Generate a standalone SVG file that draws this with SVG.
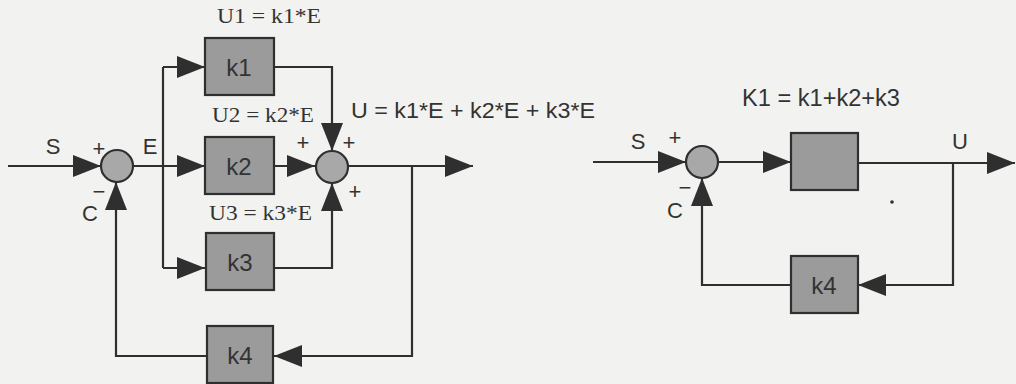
<svg xmlns="http://www.w3.org/2000/svg" width="1016" height="384" viewBox="0 0 1016 384">
<style>
.bg{fill:#f2f2f0}
.blk{fill:#9b9b9b;stroke:#2f2f2f;stroke-width:2.2}
.sum{fill:#a8a8a8;stroke:#2f2f2f;stroke-width:2.2}
.ln{fill:none;stroke:#2f2f2f;stroke-width:2.2}
.sans{font-family:"Liberation Sans","DejaVu Sans",sans-serif;fill:#333333}
.serif{font-family:"Liberation Serif","DejaVu Serif",serif;fill:#333333}
.lbl{font-size:22px;text-anchor:middle}
.k{font-size:24px;text-anchor:middle}
</style>
<defs>
<marker id="ah" markerUnits="userSpaceOnUse" markerWidth="28" markerHeight="22" refX="28" refY="11" orient="auto">
<path d="M0,0 L28,11 L0,22 Z" fill="#2f2f2f"/>
</marker>
</defs>
<rect class="bg" x="0" y="0" width="1016" height="384"/>
<g id="connectors">
<line class="ln" x1="8" y1="166" x2="101" y2="166" marker-end="url(#ah)"/>
<line class="ln" x1="133" y1="166" x2="205" y2="166" marker-end="url(#ah)"/>
<line class="ln" x1="163" y1="67" x2="163" y2="268"/>
<line class="ln" x1="163" y1="67" x2="205" y2="67" marker-end="url(#ah)"/>
<line class="ln" x1="163" y1="268" x2="205" y2="268" marker-end="url(#ah)"/>
<polyline class="ln" points="274,67 332,67 332,151" marker-end="url(#ah)"/>
<polyline class="ln" points="274,268 332,268 332,183" marker-end="url(#ah)"/>
<line class="ln" x1="274" y1="166" x2="315" y2="166" marker-end="url(#ah)"/>
<line class="ln" x1="347" y1="166" x2="473" y2="166" marker-end="url(#ah)"/>
<polyline class="ln" points="412,166 412,356 274,356" marker-end="url(#ah)"/>
<polyline class="ln" points="207,356 116,356 116,182" marker-end="url(#ah)"/>
<line class="ln" x1="593" y1="162" x2="686" y2="162" marker-end="url(#ah)"/>
<line class="ln" x1="718" y1="162" x2="791" y2="162" marker-end="url(#ah)"/>
<line class="ln" x1="858" y1="163" x2="1015" y2="163" marker-end="url(#ah)"/>
<polyline class="ln" points="953,163 953,285 858,285" marker-end="url(#ah)"/>
<polyline class="ln" points="791,285 702,285 702,178" marker-end="url(#ah)"/>
</g>
<g id="sum1"><circle class="sum" cx="117" cy="166" r="16"/></g>
<g id="sum2"><circle class="sum" cx="332" cy="167" r="16"/></g>
<g id="k1"><rect class="blk" x="205" y="38" width="69" height="57"/><text class="sans k" x="239" y="76">k1</text></g>
<g id="k2"><rect class="blk" x="205" y="137" width="69" height="57"/><text class="sans k" x="239" y="175">k2</text></g>
<g id="k3"><rect class="blk" x="206" y="233" width="68" height="57"/><text class="sans k" x="240" y="271">k3</text></g>
<g id="k4"><rect class="blk" x="207" y="326" width="66" height="57"/><text class="sans k" x="240" y="364">k4</text></g>
<g id="sum3"><circle class="sum" cx="702" cy="162" r="16"/></g>
<g id="K1"><rect class="blk" x="791" y="133" width="67" height="57"/></g>
<g id="k4b"><rect class="blk" x="791" y="256" width="67" height="57"/><text class="sans k" x="824" y="294">k4</text></g>
<g id="labels">
<text class="sans lbl" x="53" y="154">S</text>
<text class="sans lbl" x="99" y="156">+</text>
<text class="sans lbl" x="150" y="154">E</text>
<text class="sans lbl" x="99" y="199">−</text>
<text class="sans lbl" x="90" y="221">C</text>
<text class="serif" x="217" y="23" font-size="21" textLength="104" lengthAdjust="spacingAndGlyphs">U1 = k1*E</text>
<text class="serif" x="212" y="122" font-size="21" textLength="102" lengthAdjust="spacingAndGlyphs">U2 = k2*E</text>
<text class="serif" x="209" y="220" font-size="21" textLength="103" lengthAdjust="spacingAndGlyphs">U3 = k3*E</text>
<text class="sans" x="351" y="118" font-size="22" textLength="244" lengthAdjust="spacingAndGlyphs">U = k1*E + k2*E + k3*E</text>
<text class="sans lbl" x="303" y="150">+</text>
<text class="sans lbl" x="349" y="150">+</text>
<text class="sans lbl" x="355" y="199">+</text>
<text class="sans lbl" x="638" y="149">S</text>
<text class="sans lbl" x="675" y="145">+</text>
<text class="sans lbl" x="685" y="195">−</text>
<text class="sans lbl" x="675" y="218">C</text>
<text class="sans" x="742" y="106" font-size="23" textLength="158" lengthAdjust="spacingAndGlyphs">K1 = k1+k2+k3</text>
<text class="sans lbl" x="960" y="149">U</text>
</g>
<circle cx="892" cy="202" r="1.8" fill="#2f2f2f"/>
</svg>
